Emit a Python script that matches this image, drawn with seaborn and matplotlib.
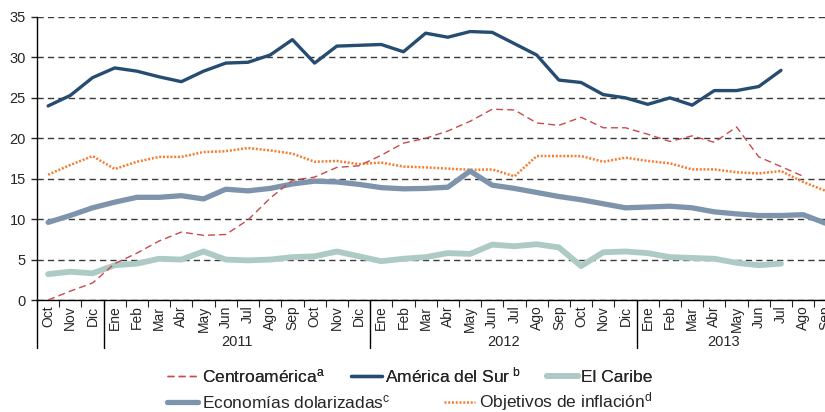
import numpy as np
import pandas as pd
import matplotlib
matplotlib.use('Agg')
import matplotlib.pyplot as plt
import matplotlib.transforms as mtransforms
import seaborn as sns

sns.set_style('white')
plt.rcParams['font.family'] = ['Liberation Sans', 'DejaVu Sans']
plt.rcParams['mathtext.fontset'] = 'custom'
plt.rcParams['mathtext.rm'] = 'Liberation Sans'
plt.rcParams['mathtext.it'] = 'Liberation Sans:italic'

# Months Oct 2010 - Sep 2013
meses = ['Oct', 'Nov', 'Dic',
         'Ene', 'Feb', 'Mar', 'Abr', 'May', 'Jun', 'Jul', 'Ago', 'Sep', 'Oct', 'Nov', 'Dic',
         'Ene', 'Feb', 'Mar', 'Abr', 'May', 'Jun', 'Jul', 'Ago', 'Sep', 'Oct', 'Nov', 'Dic',
         'Ene', 'Feb', 'Mar', 'Abr', 'May', 'Jun', 'Jul', 'Ago', 'Sep']
anios = ['2011', '2012', '2013']

nan = np.nan
centroamerica = [0.0, 1.1, 2.1, 4.5, 5.8, 7.3, 8.4, 8.0, 8.1, 9.9, 12.6, 14.8, 15.2, 16.4, 16.6, 17.9,
                 19.4, 20.0, 20.9, 22.1, 23.6, 23.5, 21.9, 21.6, 22.6, 21.3, 21.3, 20.5, 19.6, 20.3,
                 19.5, 21.4, 17.7, 16.5, 15.3, nan]
america_sur = [24.0, 25.3, 27.5, 28.7, 28.3, 27.6, 27.0, 28.3, 29.3, 29.4, 30.3, 32.2, 29.3, 31.4, 31.5,
               31.6, 30.7, 33.0, 32.5, 33.2, 33.1, 31.7, 30.3, 27.2, 26.9, 25.4, 25.0, 24.2, 25.0, 24.1,
               25.9, 25.9, 26.4, 28.4, nan, nan]
el_caribe = [3.2, 3.5, 3.3, 4.3, 4.5, 5.1, 5.0, 6.0, 5.0, 4.9, 5.0, 5.3, 5.4, 6.0, 5.4, 4.8,
             5.1, 5.3, 5.8, 5.7, 6.85, 6.65, 6.9, 6.5, 4.2, 5.9, 6.0, 5.8, 5.3, 5.2,
             5.1, 4.6, 4.3, 4.5, nan, nan]
dolarizadas = [9.6, 10.45, 11.4, 12.1, 12.7, 12.7, 12.9, 12.5, 13.7, 13.5, 13.8, 14.35, 14.7, 14.6, 14.3,
               13.9, 13.75, 13.8, 13.95, 15.95, 14.2, 13.8, 13.3, 12.8, 12.4, 11.9, 11.4, 11.5, 11.6, 11.4,
               10.9, 10.65, 10.45, 10.45, 10.55, 9.5]
objetivos = [15.5, 16.7, 17.8, 16.2, 17.1, 17.7, 17.7, 18.3, 18.4, 18.8, 18.5, 18.1, 17.1, 17.2, 16.8,
             17.0, 16.5, 16.4, 16.25, 16.1, 16.15, 15.3, 17.8, 17.8, 17.8, 17.1, 17.6, 17.2, 16.9, 16.15,
             16.15, 15.8, 15.65, 15.95, 14.6, 13.5]

series = {
    r'Centroamérica$^{\rm a}$': centroamerica,
    r'América del Sur$^{\ \rm b}$': america_sur,
    'El Caribe': el_caribe,
    r'Economías dolarizadas$^{\rm c}$': dolarizadas,
    r'Objetivos de inflación$^{\rm d}$': objetivos,
}

df = pd.concat([pd.DataFrame({'pos': np.arange(len(meses)), 'serie': k, 'valor': v})
                for k, v in series.items()], ignore_index=True)

estilos = {
    r'Centroamérica$^{\rm a}$': dict(color='#C94A4A', linewidth=1.0, linestyle=(0, (5, 3)), zorder=6),
    r'América del Sur$^{\ \rm b}$': dict(color='#274C72', linewidth=2.4, linestyle='-', zorder=5),
    'El Caribe': dict(color='#AECAC5', linewidth=4.2, linestyle='-', zorder=3),
    r'Economías dolarizadas$^{\rm c}$': dict(color='#7D94AC', linewidth=3.8, linestyle='-', zorder=4),
    r'Objetivos de inflación$^{\rm d}$': dict(color='#F47D30', linewidth=1.8, linestyle=(0, (0.8, 0.7)), zorder=3.5),
}

fig = plt.figure(figsize=(8.25, 4.12), dpi=100)
ax = fig.add_axes([37 / 825, 1 - 300 / 412, 799.5 / 825, 283 / 412])

for nombre, kw in estilos.items():
    sns.lineplot(data=df[df['serie'] == nombre].dropna(), x='pos', y='valor', ax=ax,
                 errorbar=None, label=nombre, legend=False, **kw)

ax.set_xlim(-0.5, len(meses) - 0.5)
ax.set_ylim(0, 35)
ax.set_yticks(range(0, 36, 5))
ax.yaxis.grid(True, color='#3a3a3a', linewidth=1.0, linestyle=(0, (4.5, 3)))
ax.set_axisbelow(True)
ax.set_xlabel('')
ax.set_ylabel('')
for s in ['top', 'right']:
    ax.spines[s].set_visible(False)
ax.spines['left'].set_color('black')
ax.spines['bottom'].set_color('black')
ax.spines['left'].set_linewidth(1.0)
ax.spines['bottom'].set_linewidth(1.0)
ax.tick_params(axis='y', left=True, length=4, width=1, labelsize=10.5, pad=4)

# boundary ticks (major) and labelled month centres (minor)
ax.set_xticks(np.arange(-0.5, len(meses), 1.0))
ax.set_xticklabels([])
ax.tick_params(axis='x', which='major', bottom=True, length=5, width=0.8)
ax.set_xticks(np.arange(len(meses)), minor=True)
ax.set_xticklabels(meses, minor=True, rotation=90, fontsize=10)
ax.tick_params(axis='x', which='minor', length=0, pad=4)

trans = mtransforms.blended_transform_factory(ax.transData, ax.transAxes)
for xs in [-0.5, 2.5, 14.5, 26.5]:
    ax.plot([xs, xs], [0, -0.17], transform=trans, color='black', linewidth=1.0, clip_on=False)
for xc, anio in zip([8.5, 20.5, 30.4], anios):
    ax.text(xc, -0.15, anio, transform=trans, ha='center', va='center', fontsize=10.5)

handles, labels = ax.get_legend_handles_labels()
hmap = dict(zip(labels, handles))
fila1 = list(series.keys())[:3]
fila2 = list(series.keys())[3:]
leg1 = fig.legend([hmap[k] for k in fila1], fila1, loc='center left', bbox_to_anchor=(167 / 825, 1 - 375 / 412),
                  ncol=3, frameon=False, fontsize=12.5, handlelength=1.8, handletextpad=0.2,
                  columnspacing=1.5, borderpad=0, borderaxespad=0)
fig.add_artist(leg1)
fig.legend([hmap[k] for k in fila2], fila2, loc='center left', bbox_to_anchor=(167 / 825, 1 - 402 / 412),
           ncol=2, frameon=False, fontsize=12.5, handlelength=1.8, handletextpad=0.2,
           columnspacing=3.1, borderpad=0, borderaxespad=0)

fig.savefig('out.png', dpi=100)
